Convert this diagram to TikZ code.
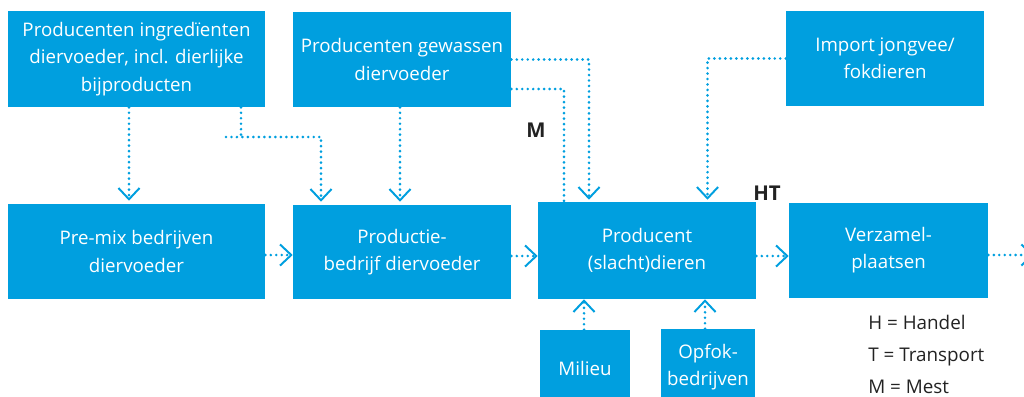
\documentclass[tikz,border=0pt]{standalone}
\usepackage{fontspec}
\setmainfont{Open Sans}
\usepackage{xcolor}
\usetikzlibrary{arrows.meta, calc, positioning}
\definecolor{rijkblue}{HTML}{009FDF}
\definecolor{legendgray}{HTML}{222222}
\newcommand{\pxu}{0.025cm}
\tikzset{
  %chain node style
  block/.style={
    fill=rijkblue
    , text=white
    , inner sep=0pt
    , anchor=center
    , align=center
    , font=\fontsize{13.3}{19.3}\selectfont
    %, rounded corners
  },
  %dotted connector
  flow/.style={
    draw=rijkblue
    , line width=2.1pt
    , line cap=round
    , dash pattern=on 0pt off 3.9pt
  },
  >={Straight Barb[length=8pt, width=15pt, line width=1.4pt]},
}

\begin{document}
\begin{tikzpicture}[x=\pxu, y=-\pxu]
  \tikzstyle{flowlabel}=[text=legendgray, font=\fontsize{14.5}{16}\selectfont\bfseries, inner sep=0pt]
  \tikzstyle{legend}=[text=legendgray, font=\fontsize{13.4}{15}\selectfont, anchor=base west, inner sep=0pt]
  \clip (0,0) rectangle (1024,396);

  % top row
  \node [block, minimum width=257*\pxu, minimum height=96*\pxu] (ingr) at (136.5,59)
    {Producenten ingredïenten\\diervoeder, incl. dierlijke\\bijproducten};
  \node [block, minimum width=218*\pxu, minimum height=95*\pxu] (gewas) at (402,59.5)
    {Producenten gewassen\\diervoeder};
  \node [block, minimum width=198*\pxu, minimum height=95*\pxu] (import) at (885,58.5)
    {Import jongvee/\\fokdieren};

  % middle row
  \node [block, minimum width=257*\pxu, minimum height=95*\pxu] (premix) at (136.5,251.5)
    {Pre-mix bedrijven\\diervoeder};
  \node [block, minimum width=218*\pxu, minimum height=94*\pxu] (prod) at (402,252)
    {Productie-\\bedrijf diervoeder};
  \node [block, minimum width=218*\pxu, minimum height=97*\pxu] (dier) at (647,250.5)
    {Producent\\(slacht)dieren};
  \node [block, minimum width=199*\pxu, minimum height=95*\pxu] (verz) at (888.5,250.5)
    {Verzamel-\\plaatsen};

  % bottom row
  \node [block, minimum width=90*\pxu, minimum height=76*\pxu] (milieu) at (585,368) {Milieu};
  \node [block, minimum width=94*\pxu, minimum height=77*\pxu] (opfok) at (708,367.5)
    {Opfok-\\bedrijven};

  \coordinate (split) at (226,137);
  \coordinate (verz-out) at (1034,255);

  \draw [flow,->] ([xshift=-7.5*\pxu]ingr.south) -- ([xshift=-7.5*\pxu,yshift=3*\pxu]premix.north);
  \draw [flow] ([xshift=104.5*\pxu]ingr.south) -- ([xshift=104.5*\pxu]ingr.south |- split);
  \draw [flow,->] (split) -| ([xshift=-81*\pxu,yshift=3*\pxu]prod.north);

  \draw [flow,->] ([xshift=-2*\pxu]gewas.south) -- ([xshift=-2*\pxu,yshift=3*\pxu]prod.north);
  \draw [flow,->] (gewas.east) -| ([xshift=-58*\pxu,yshift=2*\pxu]dier.north);
  \draw [flow] ([yshift=-29.5*\pxu]gewas.east) -| ([xshift=-83*\pxu]dier.north);

  \draw [flow,->] (import.west) -| ([xshift=60.5*\pxu,yshift=2*\pxu]dier.north);

  \draw [flow,->] ([yshift=-3.5*\pxu]premix.east) -- ([yshift=-3.5*\pxu]premix.east -| prod.west);
  \draw [flow,->] ([yshift=-4*\pxu]prod.east) -- ([yshift=-4*\pxu]prod.east -| dier.west);
  \draw [flow,->] ([yshift=-5.5*\pxu]dier.east) -- ([yshift=-5.5*\pxu]dier.east -| verz.west);
  \draw [flow,->] (verz.east |- verz-out) -- (verz-out);

  \draw [flow,->] ([xshift=-1*\pxu]milieu.north) -- ([xshift=-1*\pxu]milieu.north |- dier.south);
  \draw [flow,->] ([xshift=-3*\pxu]opfok.north) -- ([xshift=-3*\pxu]opfok.north |- dier.south);

  \node [flowlabel] (lab-m) at (536,130) {M};
  \node [flowlabel] (lab-ht) at (767,193) {HT};

  \node [legend] (leg-h) at (868,329) {H = Handel};
  \node [legend] (leg-t) at (868,361) {T = Transport};
  \node [legend] (leg-m) at (868,393) {M = Mest};
\end{tikzpicture}
\end{document}
